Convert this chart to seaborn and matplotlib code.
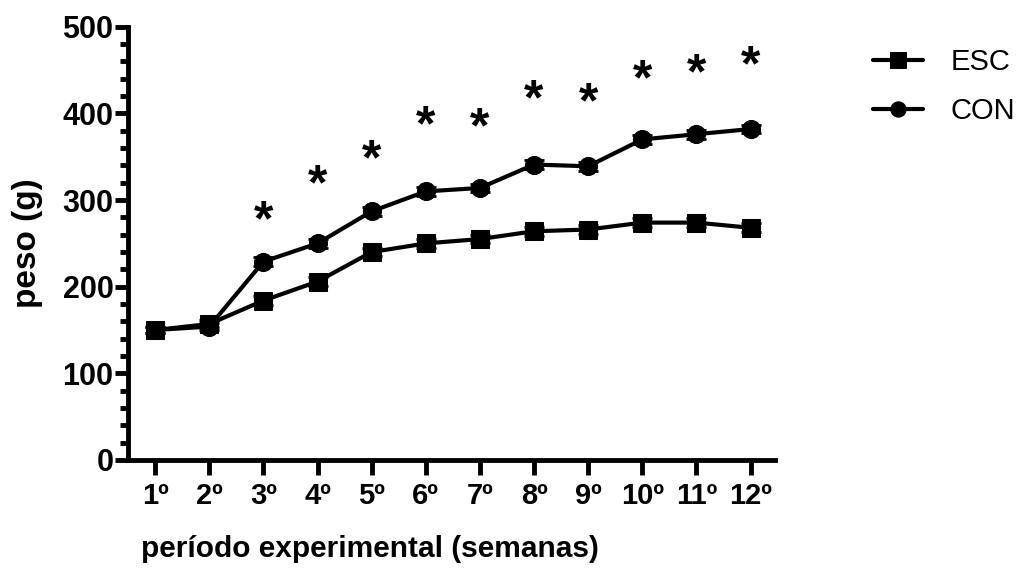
import matplotlib
matplotlib.use("Agg")
import matplotlib.pyplot as plt
import seaborn as sns
import pandas as pd

weeks = [1, 2, 3, 4, 5, 6, 7, 8, 9, 10, 11, 12]
week_labels = ["1º", "2º", "3º", "4º", "5º", "6º", "7º", "8º", "9º", "10º", "11º", "12º"]
esc = [150, 157, 184, 206, 240, 250, 255, 264, 266, 274, 274, 268]
con = [150, 154, 229, 250, 287, 310, 314, 341, 339, 370, 376, 382]
esc_err = [4, 4, 5, 5, 5, 5, 5, 5, 5, 5, 5, 5]
con_err = [4, 4, 5, 5, 5, 5, 5, 5, 5, 5, 5, 5]
star_weeks = [3, 4, 5, 6, 7, 8, 9, 10, 11, 12]
star_y = [285, 327, 356, 395, 393, 425, 422, 448, 455, 464]

sns.set_style("ticks")
plt.rcParams['font.family'] = ['Liberation Sans', 'DejaVu Sans']
for k in ("text.color", "axes.labelcolor", "xtick.color", "ytick.color", "axes.edgecolor"):
    plt.rcParams[k] = "black"

df = pd.DataFrame({
    "semana": weeks + weeks,
    "peso": esc + con,
    "grupo": ["ESC"] * len(esc) + ["CON"] * len(con),
})

fig = plt.figure(figsize=(10.25, 5.7), dpi=100)
ax = fig.add_axes([0.125, 0.193, 0.631, 0.76])

for vals, errs in ((esc, esc_err), (con, con_err)):
    ax.errorbar(weeks, vals, yerr=errs, fmt='none', ecolor='black',
                elinewidth=2, capsize=7, capthick=2, zorder=2)

sns.lineplot(data=df, x="semana", y="peso", style="grupo",
             markers={"ESC": "s", "CON": "o"}, dashes=False,
             color="black", linewidth=3, markersize=13,
             markeredgecolor="black", ax=ax, zorder=3, clip_on=False)

for wx, wy in zip(star_weeks, star_y):
    ax.annotate("*", xy=(wx, wy), xytext=(0, -7), textcoords="offset points",
                ha="center", va="center", fontsize=36,
                fontweight="bold", color="black")

ax.set_xlim(0.5, 12.45)
ax.set_ylim(0, 500)
ax.set_xticks(weeks)
ax.set_xticklabels(week_labels, fontsize=21, fontweight="bold")
ax.set_yticks([0, 100, 200, 300, 400, 500])
ax.set_yticklabels(["0", "100", "200", "300", "400", "500"], fontsize=22, fontweight="bold")
ax.set_yticks(range(0, 501, 20), minor=True)
ax.tick_params(axis="y", which="major", length=9.5, width=3.5, pad=1)
ax.tick_params(axis="y", which="minor", length=6, width=3.5)
ax.tick_params(axis="x", which="major", length=11, width=3.5, pad=5)

sns.despine(ax=ax)
for s in ("left", "bottom"):
    ax.spines[s].set_linewidth(3.5)

ax.set_xlabel("período experimental (semanas)", fontsize=21.5, fontweight="bold")
ax.xaxis.set_label_coords(0.374, -0.174)
ax.set_ylabel("peso (g)", fontsize=24, fontweight="bold")
ax.yaxis.set_label_coords(-0.131, 0.5)

handles, labels = ax.get_legend_handles_labels()
order = [labels.index("ESC"), labels.index("CON")]
leg = ax.legend([handles[i] for i in order], [labels[i] for i in order],
                loc="upper left", bbox_to_anchor=(0.852, 0.916),
                bbox_transform=fig.transFigure, frameon=False,
                borderpad=0, borderaxespad=0,
                fontsize=21, handlelength=1.72, handletextpad=0.93,
                labelspacing=0.72)
for h in leg.legend_handles:
    h.set_markersize(11)

fig.savefig("out.png", dpi=100)
